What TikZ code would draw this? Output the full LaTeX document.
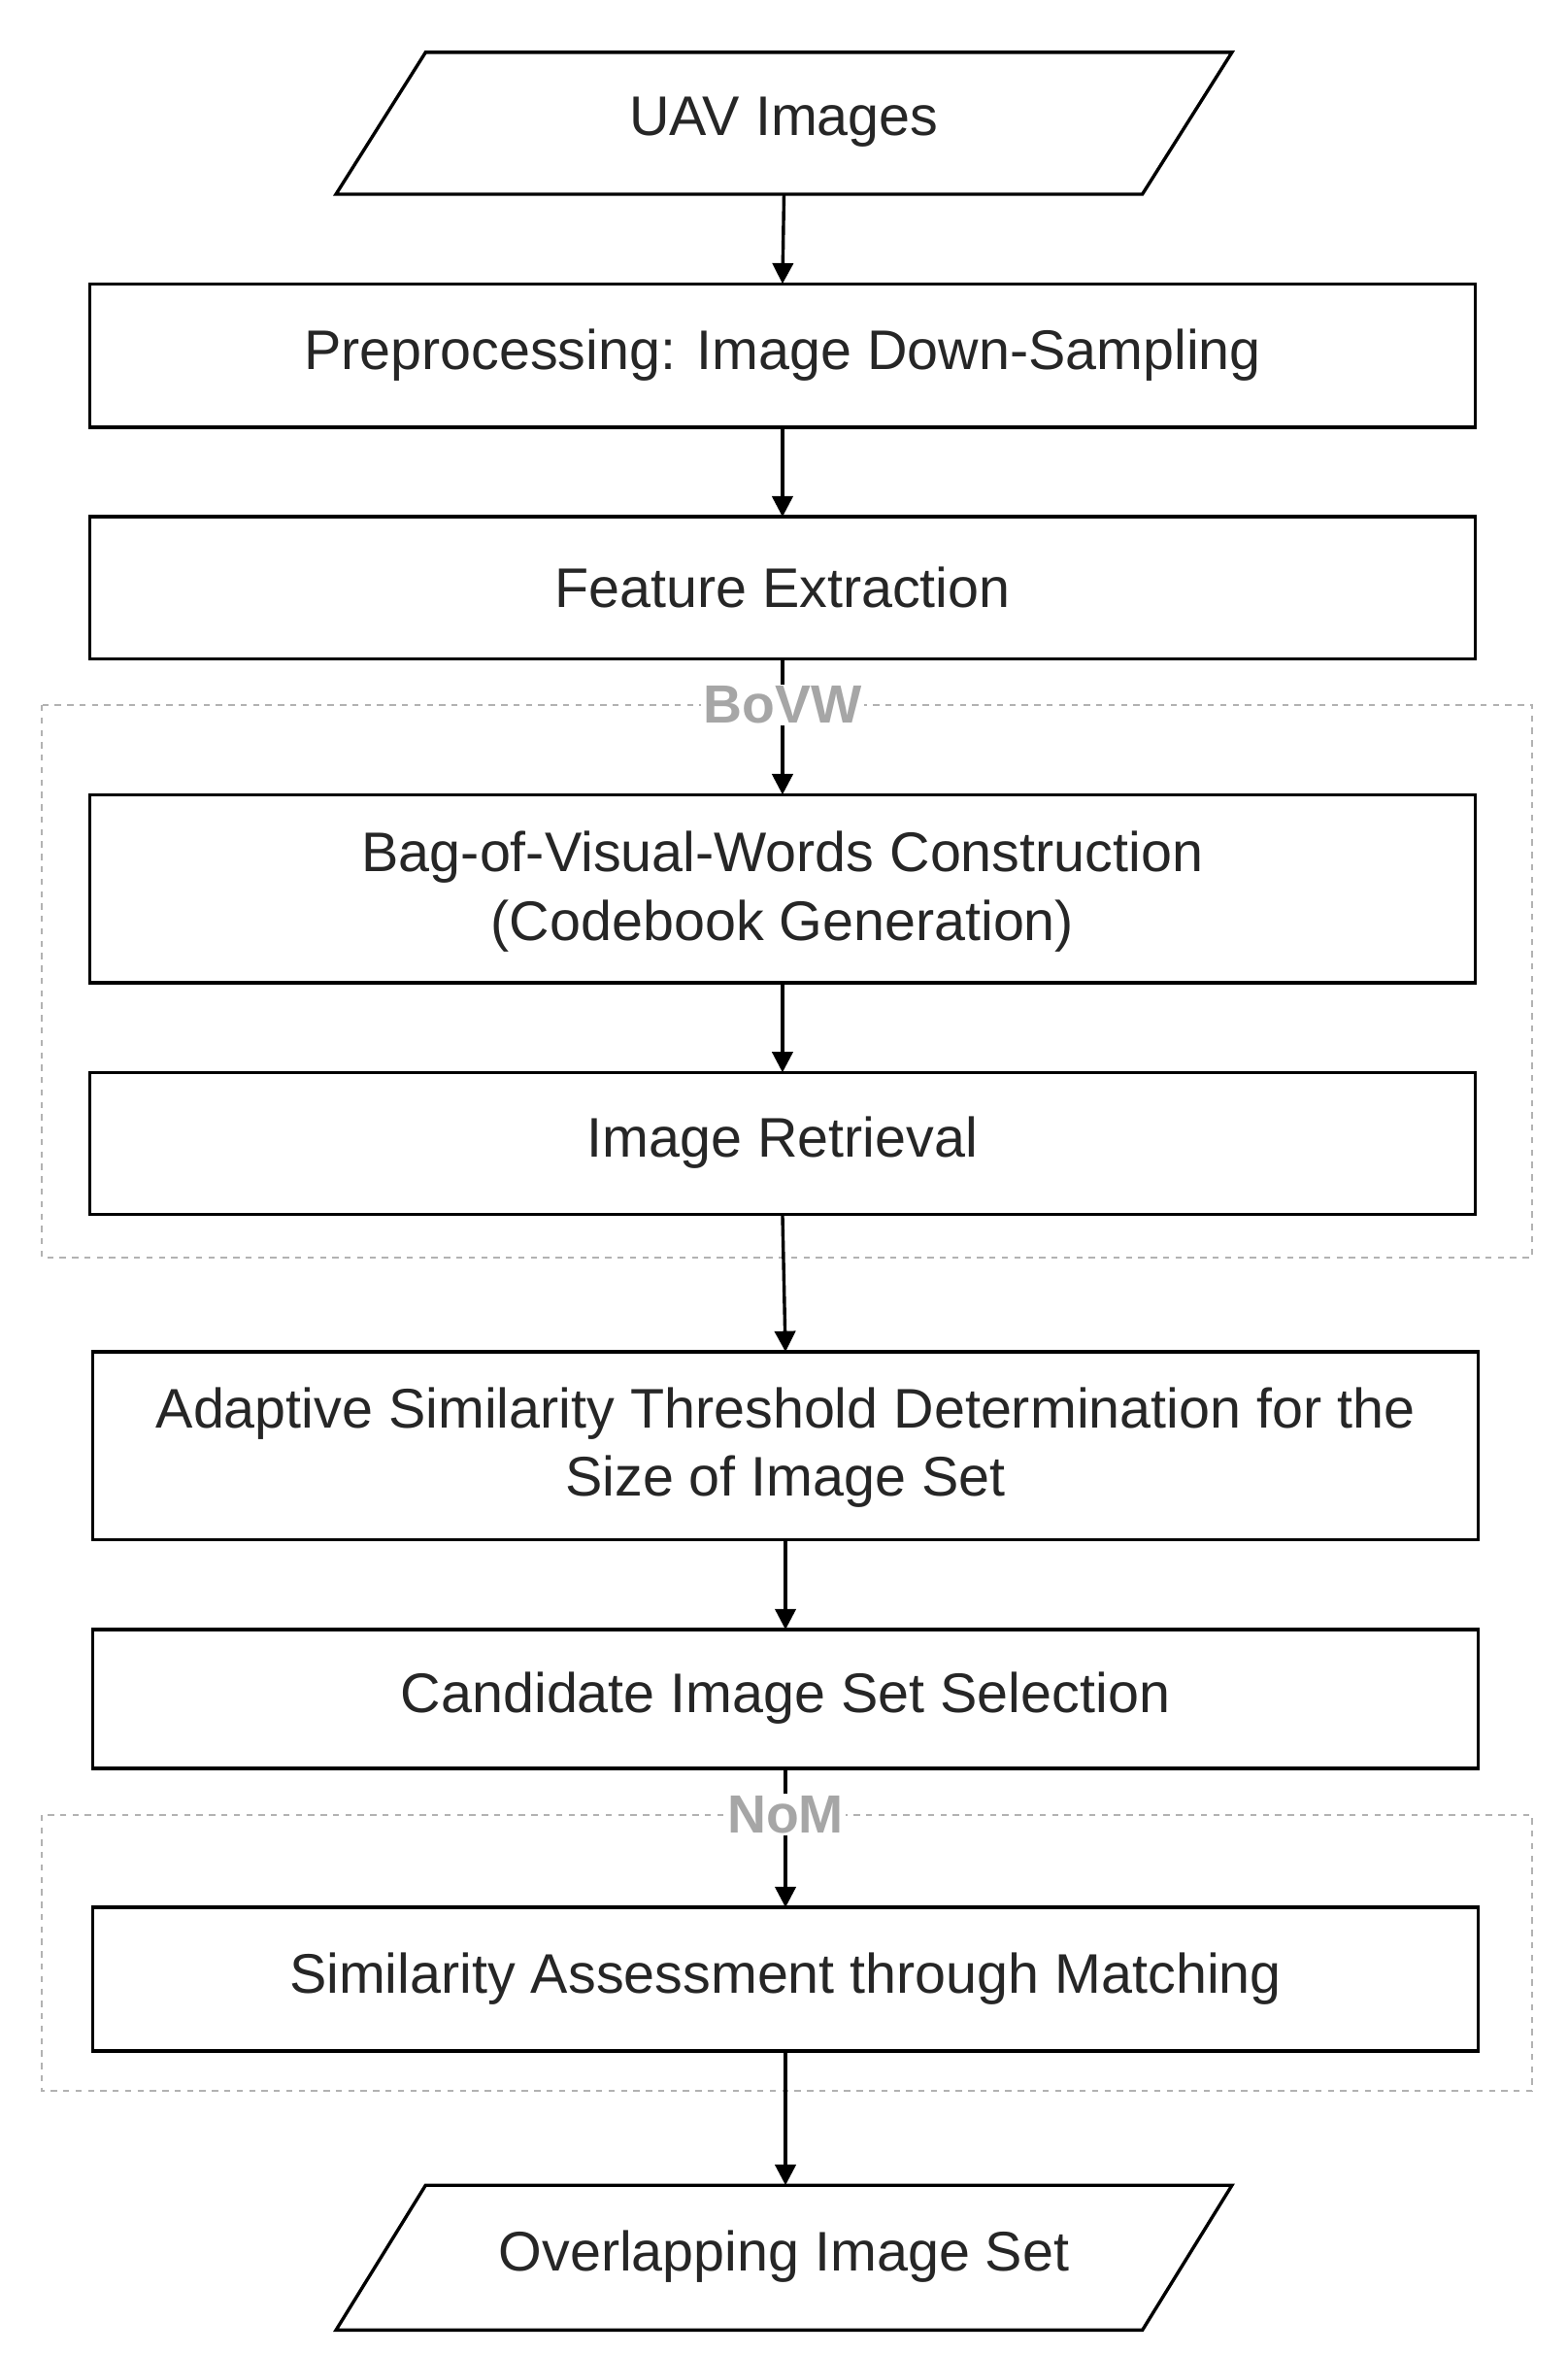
\documentclass[tikz,border=0pt]{standalone}
\usepackage{fontspec}
\setmainfont{Liberation Sans}
\usetikzlibrary{arrows.meta}
\begin{document}
\begin{tikzpicture}[x=0.254mm,y=-0.254mm,
  box/.style={draw,line width=1.6pt},
  grp/.style={draw=gray!60,dashed,line width=0.9pt},
  arr/.style={line width=1.6pt,-{Triangle[length=10pt,width=10pt]}},
  txt/.style={font=\fontsize{27}{33}\selectfont,color=black!85,align=center},
  glab/.style={font=\fontsize{26}{31}\selectfont\bfseries,color=gray!70,fill=white,inner sep=1pt}]
\useasboundingbox (0,0) rectangle (1050,1576);
\draw[box] (285,35) -- (825,35) -- (765,130) -- (225,130) -- cycle;
\node[txt] (in) at (525,82) {UAV Images};
\coordinate (inB) at (525,130);
\draw[box] (60,190) rectangle (988,286); \node[txt] (b1) at (524,238) {Preprocessing: Image Down-Sampling};
\draw[box] (60,346) rectangle (988,441); \node[txt] (b2) at (524,393) {Feature Extraction};
\draw[grp] (28,472) rectangle (1026,842);
\draw[box] (60,532) rectangle (988,658); \node[txt] (b3) at (524,597) {Bag-of-Visual-Words Construction\\(Codebook Generation)};
\draw[box] (60,718) rectangle (988,813); \node[txt] (b4) at (524,765) {Image Retrieval};
\draw[box] (62,905) rectangle (990,1031); \node[txt] (b5) at (526,969) {Adaptive Similarity Threshold Determination for the\\Size of Image Set};
\draw[box] (62,1091) rectangle (990,1184); \node[txt] (b6) at (526,1137) {Candidate Image Set Selection};
\draw[grp] (28,1215) rectangle (1026,1400);
\draw[box] (62,1277) rectangle (990,1373); \node[txt] (b7) at (526,1325) {Similarity Assessment through Matching};
\draw[box] (285,1463) -- (825,1463) -- (765,1560) -- (225,1560) -- cycle;
\node[txt] (out) at (525,1511) {Overlapping Image Set};
\coordinate (c1t) at (524,190); \coordinate (c1b) at (524,286);
\coordinate (c2t) at (524,346); \coordinate (c2b) at (524,441);
\coordinate (c3t) at (524,532); \coordinate (c3b) at (524,658);
\coordinate (c4t) at (524,718); \coordinate (c4b) at (524,813);
\coordinate (c5t) at (526,905); \coordinate (c5b) at (526,1031);
\coordinate (c6t) at (526,1091); \coordinate (c6b) at (526,1184);
\coordinate (c7t) at (526,1277); \coordinate (c7b) at (526,1373);
\coordinate (oT) at (526,1463);
\draw[arr] (inB) -- (c1t);
\draw[arr] (c1b) -- (c2t);
\draw[arr] (c2b) -- (c3t);
\draw[arr] (c3b) -- (c4t);
\draw[arr] (c4b) -- (c5t);
\draw[arr] (c5b) -- (c6t);
\draw[arr] (c6b) -- (c7t);
\draw[arr] (c7b) -- (oT);
\node[glab] (g1) at (524,472) {BoVW};
\node[glab] (g2) at (526,1215) {NoM};
\end{tikzpicture}
\end{document}
